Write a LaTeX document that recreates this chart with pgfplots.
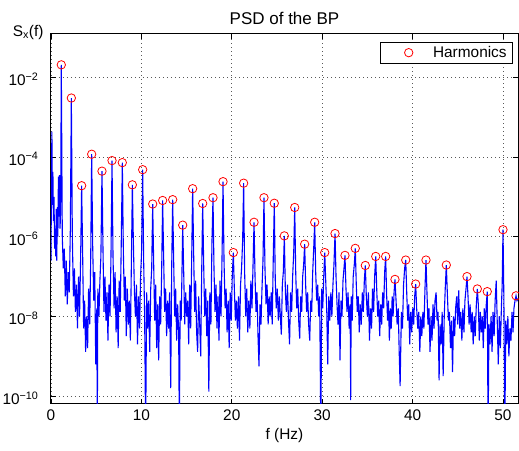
\documentclass[border=0pt]{standalone}
\usepackage{fontspec}
\setmainfont{Liberation Sans}
\usepackage{pgfplots}
\pgfplotsset{compat=1.18}

% spectrum (f in Hz, PSD)
\pgfplotstableread{
f psd
0.00 2.5e-7
0.05 2.5e-5
0.10 4.3e-4
0.15 6.3e-6
0.21 4.2e-5
0.27 2.5e-6
0.33 1e-5
0.40 5e-7
0.46 1.6e-6
0.52 3.2e-7
0.58 5e-6
0.64 2.5e-7
0.70 5.5e-6
0.76 1e-6
0.82 3.2e-5
0.88 3.2e-6
0.94 3.5e-5
1.00 1.6e-6
1.07 5e-6
1.14 2.04e-2
1.25 1e-6
1.36 1.6e-7
1.47 5e-7
1.58 3.2e-8
1.69 2.5e-7
1.80 2e-8
1.91 1.3e-7
2.02 4e-8
2.14 1.6e-6
2.25 3e-3
2.36 1e-6
2.48 3.2e-8
2.59 1.6e-7
2.70 1.3e-8
2.82 6.3e-8
2.93 5e-9
3.05 1e-7
3.16 1e-8
3.28 3.2e-7
3.39 1.9e-5
3.50 4e-7
3.61 5e-9
3.72 2.5e-8
3.83 1.3e-9
3.94 1e-8
4.05 1.6e-9
4.16 5e-8
4.28 6.3e-9
4.39 2.5e-7
4.50 1.17e-4
4.61 6.3e-7
4.73 2.5e-8
4.84 1.3e-7
4.95 6.3e-10
5.07 1.6e-8
5.12 1e-11
5.18 5e-8
5.30 1e-8
5.41 7.9e-8
5.52 3.2e-7
5.64 4.4e-5
5.75 5e-7
5.86 1.3e-8
5.97 1e-7
6.08 7.9e-9
6.19 4e-8
6.30 2.5e-9
6.41 6.3e-8
6.53 1e-8
6.64 4e-7
6.75 8.1e-5
6.86 3.2e-7
6.98 1.6e-8
7.09 1.3e-7
7.20 4e-9
7.32 3.2e-8
7.43 1.6e-9
7.54 7.9e-8
7.66 1.3e-8
7.77 6.3e-7
7.89 7.2e-5
8.00 5e-7
8.11 2.5e-8
8.22 1e-7
8.33 3.2e-9
8.44 5e-8
8.56 6.3e-9
8.67 2.5e-8
8.78 2.5e-9
8.89 2e-7
9.00 2e-5
9.11 7.9e-7
9.23 4e-8
9.34 1e-8
9.45 6.3e-8
9.57 2e-9
9.68 3.2e-8
9.80 5e-9
9.91 1e-7
10.02 4e-7
10.14 4.8e-5
10.25 2.5e-7
10.36 1e-8
10.47 1e-11
10.58 4e-8
10.69 5e-9
10.80 2.5e-8
10.92 1.3e-9
11.03 5e-8
11.14 1.6e-7
11.25 6.6e-6
11.36 2e-7
11.47 7.9e-9
11.58 6.3e-8
11.69 1.6e-9
11.80 2e-8
11.91 7.9e-10
12.02 3.2e-8
12.13 6.3e-9
12.24 1.3e-7
12.35 8.1e-6
12.46 3.2e-7
12.57 1.3e-8
12.68 5e-8
12.79 3.2e-9
12.90 2.5e-8
13.01 5e-9
13.12 4e-8
13.24 1.6e-10
13.35 1.6e-7
13.46 8.5e-6
13.57 2.5e-7
13.68 1e-8
13.79 5e-8
13.90 2.5e-9
14.01 2e-8
14.12 4e-9
14.20 1e-11
14.29 2.5e-8
14.40 7.9e-9
14.48 1e-7
14.57 1.95e-6
14.68 1.3e-7
14.79 6.3e-9
14.90 4e-8
15.01 1e-8
15.12 2.5e-8
15.23 2e-9
15.34 6.3e-8
15.45 5e-9
15.56 2.5e-7
15.67 1.6e-5
15.78 4e-7
15.89 1.3e-8
16.00 7.9e-8
16.11 4e-9
16.22 1.3e-9
16.33 3.2e-8
16.45 6.3e-9
16.56 1e-9
16.67 1.3e-7
16.78 6.8e-6
16.89 2e-7
17.00 1e-8
17.12 5e-8
17.23 3.2e-9
17.34 2.5e-8
17.46 1.3e-10
17.57 4e-8
17.69 6.3e-9
17.80 6.3e-7
17.92 9.5e-6
18.03 1.6e-7
18.14 1.3e-8
18.25 6.3e-8
18.36 5e-9
18.47 3.2e-8
18.58 2.5e-9
18.70 7.9e-8
18.81 1e-8
18.92 3.2e-7
19.03 2.4e-5
19.14 2.5e-7
19.26 1.6e-8
19.37 5e-8
19.48 4e-9
19.60 2.5e-8
19.71 1.6e-9
19.82 4e-8
19.94 7.9e-9
20.05 1e-7
20.17 4e-7
20.28 5e-8
20.40 7.9e-9
20.51 2.5e-8
20.62 5e-9
20.74 3.2e-8
20.85 2.5e-9
20.97 6.3e-8
21.08 1.6e-7
21.20 7.9e-7
21.31 2.2e-5
21.42 1.3e-7
21.54 1e-8
21.65 5e-8
21.77 4e-9
21.88 2.5e-8
22.00 5e-9
22.11 7.9e-8
22.23 1.6e-8
22.34 1.6e-7
22.46 2.3e-6
22.57 1e-7
22.68 1.3e-8
22.79 4e-8
22.90 3.2e-9
23.01 5.6e-10
23.12 2e-8
23.23 6.3e-9
23.34 5e-8
23.45 2.5e-7
23.56 9.5e-6
23.67 1.6e-7
23.79 2e-8
23.90 6.3e-8
24.02 6.3e-9
24.13 3.2e-8
24.24 1e-8
24.36 4e-8
24.47 6.3e-9
24.59 3.2e-7
24.70 6.9e-6
24.81 7.9e-8
24.92 1.6e-8
25.03 5e-8
25.15 7.9e-9
25.26 3.2e-8
25.37 1e-8
25.48 3.5e-9
25.59 6.3e-8
25.70 1.3e-7
25.81 1.05e-6
25.93 4e-8
26.04 1.3e-8
26.16 6.3e-8
26.27 7.9e-9
26.39 2e-9
26.50 4e-8
26.62 1.3e-8
26.73 1e-7
26.85 4e-7
26.96 5.4e-6
27.07 1.3e-7
27.18 1.6e-8
27.29 5e-8
27.40 7.9e-9
27.51 2.8e-9
27.62 3.2e-8
27.73 1.3e-8
27.84 1e-7
27.95 2e-7
28.06 6.5e-7
28.17 6.3e-8
28.28 1.3e-8
28.39 4e-8
28.50 6.3e-9
28.62 2.5e-9
28.73 2.5e-8
28.84 1.3e-8
28.95 1.3e-7
29.06 5e-7
29.17 2.3e-6
29.28 1.3e-7
29.39 2.5e-8
29.50 6.3e-8
29.61 1e-8
29.72 3.2e-8
29.85 1e-11
29.95 5e-8
30.06 1.6e-8
30.17 1e-7
30.28 4e-7
30.39 7.9e-8
30.50 1.6e-8
30.61 6.3e-10
30.73 3.2e-8
30.84 7.9e-9
30.96 4e-8
31.07 1e-8
31.19 6.3e-8
31.30 2e-7
31.42 1.2e-6
31.53 1e-7
31.64 2e-8
31.75 6.3e-9
31.86 4e-8
31.97 7.9e-10
32.08 2.5e-8
32.19 1e-8
32.30 7.9e-8
32.41 1.6e-7
32.52 3.4e-7
32.63 5e-8
32.75 1.3e-8
32.86 4e-8
32.98 5e-9
33.09 2e-8
33.15 8e-11
33.21 3.2e-8
33.32 7.9e-9
33.43 1e-7
33.55 2e-7
33.66 5.1e-7
33.77 6.3e-8
33.88 1.3e-8
33.99 3.2e-8
34.10 4e-9
34.21 2e-8
34.32 6.3e-9
34.44 4e-8
34.55 1.3e-8
34.66 7.9e-8
34.77 1.9e-7
34.88 3.2e-8
35.00 1e-8
35.11 4e-8
35.23 2.5e-9
35.34 1.6e-8
35.46 5e-9
35.57 5e-8
35.69 1.3e-8
35.80 1e-7
35.92 3.2e-7
36.03 5e-8
36.14 1e-8
36.25 2.5e-8
36.36 3.2e-9
36.47 2e-8
36.58 6.3e-9
36.69 4e-8
36.80 1.6e-8
36.91 1.3e-7
37.02 3.2e-7
37.12 4e-8
37.23 7.9e-9
37.33 2.5e-8
37.43 2.5e-9
37.54 1.6e-8
37.64 5e-9
37.74 3.2e-8
37.84 1e-8
37.95 4e-8
38.05 8.5e-8
38.17 2.5e-8
38.29 6.3e-9
38.41 1.6e-8
38.53 1e-9
38.62 1.8e-10
38.76 1.3e-8
38.88 5e-9
39.00 6.3e-8
39.12 1.6e-7
39.24 2.6e-7
39.35 4e-8
39.46 7.9e-9
39.57 2e-8
39.68 2e-9
39.79 1.3e-8
39.90 4e-9
40.01 1.6e-8
40.12 6.3e-9
40.23 3.2e-8
40.34 6.5e-8
40.45 1.6e-8
40.57 5e-9
40.68 1.3e-8
40.80 1.3e-9
40.91 1e-8
41.02 3.2e-9
41.14 1.3e-8
41.25 5e-9
41.37 5e-8
41.48 2.6e-7
41.59 4e-8
41.70 6.3e-9
41.81 1.6e-8
41.93 1.3e-9
42.04 1e-8
42.15 2.5e-9
42.26 2e-8
42.37 5e-9
42.48 2.5e-8
42.60 4e-8
42.71 7.9e-9
42.82 1.3e-8
42.93 2.5e-10
43.04 6.3e-9
43.16 2e-9
43.27 1.3e-8
43.38 3.2e-10
43.50 1e-8
43.61 5e-8
43.73 1.95e-7
43.84 4e-8
43.96 7.9e-9
44.07 1.3e-8
44.19 1.6e-9
44.30 7.9e-9
44.42 4e-10
44.53 1e-8
44.65 3.2e-9
44.76 1.6e-8
44.88 3.2e-8
44.99 6.3e-9
45.10 4.5e-8
45.22 5e-9
45.33 1.3e-8
45.45 2.5e-9
45.56 1.6e-8
45.68 4e-9
45.79 2.5e-8
45.91 5e-8
46.02 1e-7
46.13 3.2e-8
46.25 6.3e-9
46.36 2e-8
46.48 4e-9
46.59 1.3e-8
46.70 2e-9
46.82 1e-8
46.93 3.2e-9
47.05 2e-8
47.16 4.9e-8
47.27 2e-8
47.38 2.5e-9
47.49 1.3e-8
47.60 4e-9
47.71 1e-8
47.82 1.6e-9
47.93 1.6e-8
48.04 5e-9
48.15 2e-8
48.26 4.2e-8
48.35 1e-11
48.45 6.3e-9
48.56 2e-9
48.68 1e-8
48.79 1.3e-9
48.90 1.3e-8
49.02 3.2e-9
49.13 2.5e-8
49.25 7.9e-8
49.36 7.9e-9
49.48 6.3e-10
49.59 1e-8
49.71 1.6e-9
49.82 1.6e-8
49.91 6.3e-8
50.00 1.5e-6
50.10 2.5e-8
50.20 1e-11
50.31 7.9e-9
50.42 2e-9
50.54 1e-8
50.65 1e-9
50.77 5e-9
50.88 2.5e-9
51.00 1.3e-8
51.11 4e-9
51.21 1.6e-8
51.33 2.5e-8
51.44 3.3e-8
51.55 2.5e-8
51.66 2.8e-8
}\psdtable

\pgfplotstableread{
f psd
1.14 2.04e-2
2.25 3e-3
3.39 1.9e-5
4.50 1.17e-4
5.64 4.4e-5
6.75 8.1e-5
7.89 7.2e-5
9.00 2e-5
10.14 4.8e-5
11.25 6.6e-6
12.35 8.1e-6
13.46 8.5e-6
14.57 1.95e-6
15.67 1.6e-5
16.78 6.8e-6
17.92 9.5e-6
19.03 2.4e-5
20.17 4e-7
21.31 2.2e-5
22.46 2.3e-6
23.56 9.5e-6
24.70 6.9e-6
25.81 1.05e-6
26.96 5.4e-6
28.06 6.5e-7
29.17 2.3e-6
30.28 4e-7
31.42 1.2e-6
32.52 3.4e-7
33.66 5.1e-7
34.77 1.9e-7
35.92 3.2e-7
37.02 3.2e-7
38.05 8.5e-8
39.24 2.6e-7
40.34 6.5e-8
41.48 2.6e-7
43.73 1.95e-7
46.02 1e-7
47.16 4.9e-8
48.26 4.2e-8
50.00 1.5e-6
51.44 3.3e-8
}\harmtable

\begin{document}
\begin{tikzpicture}
\useasboundingbox (-51pt,-46.3pt) rectangle (468pt,403.7pt);
\begin{semilogyaxis}[
  scale only axis, width=467pt, height=370pt,
  at={(0,0)}, anchor=south west,
  xmin=0, xmax=51.66, ymin=6.5e-11, ymax=0.123,
  xtick={0,10,20,30,40,50},
  ytick={1e-10,1e-8,1e-6,1e-4,1e-2},
  yticklabels={10\textsuperscript{−10},10\textsuperscript{−8},10\textsuperscript{−6},10\textsuperscript{−4},10\textsuperscript{−2}},
  yminorticks=false,
  grid=major,
  major grid style={black!65, line width=0.6pt, dash pattern=on 0.8pt off 3.2pt},
  tick align=inside, major tick length=5pt,
  tick style={black, line width=0.8pt},
  axis line style={line width=1pt},
  ticklabel style={font=\fontsize{15.4}{17}\selectfont},
  xticklabel style={yshift=-3pt},
  yticklabel style={xshift=-9pt, yshift=-2pt},
  /pgf/number format/assume math mode=true,
  title={PSD of the BP},
  title style={font=\fontsize{17}{19}\selectfont},
  xlabel={f (Hz)},
  xlabel style={font=\fontsize{15.4}{17}\selectfont},
  ylabel={S\textsubscript{x}(f)},
  ylabel style={font=\fontsize{15.4}{17}\selectfont, at={(axis description cs:0,1)}, rotate=-90, anchor=base east, xshift=-4pt, yshift=-3pt},
  legend style={at={(0.9893,0.9776)}, anchor=north east, draw=black, line width=0.7pt,
    font=\fontsize{15.4}{17}\selectfont, inner xsep=4pt, inner ysep=2pt},
  legend image code/.code={\path (0pt,0pt) (46pt,0pt); \draw[#1] plot coordinates {(24pt,0pt)};},
]
\addplot[blue, line width=1.1pt, forget plot] table[x=f, y=psd] {\psdtable};
\addplot[only marks, mark=o, red, mark size=4.2pt, mark options={line width=0.8pt}] table[x=f, y=psd] {\harmtable};
\addlegendentry{Harmonics}
\end{semilogyaxis}
\end{tikzpicture}
\end{document}
